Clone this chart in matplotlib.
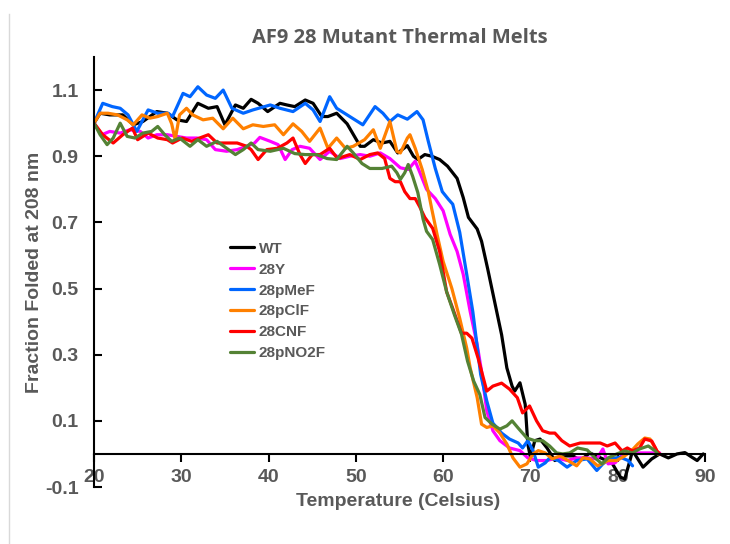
import matplotlib
matplotlib.use("Agg")
import matplotlib.pyplot as plt
from matplotlib.lines import Line2D

# data (temperature in Celsius, fraction folded)
wt_t = [20.0, 20.7, 21.8, 23.3, 24.5, 25.6, 27.2, 28.4, 29.5, 30.6, 31.9, 33.1, 34.1, 35.0, 36.2, 37.1,
        38.0, 38.8, 39.9, 41.3, 42.1, 43.0, 44.2, 45.1, 46.1, 46.8, 47.8, 49.0, 50.5, 51.0, 52.0, 53.0,
        53.9, 54.8, 55.9, 56.6, 57.1, 57.9, 58.7, 59.6, 60.5, 61.6, 62.3, 62.9, 63.9, 64.4, 65.1, 65.9,
        66.7, 67.3, 67.9, 68.2, 68.8, 69.4, 69.7, 70.0, 70.5, 71.1, 71.9, 72.8, 73.7, 74.9, 75.7, 76.8,
        78.3, 79.4, 80.3, 80.8, 81.4, 81.7, 82.3, 82.9, 83.9, 84.8, 85.8, 86.8, 87.7, 88.5, 89.1, 89.8]
wt_f = [1.00, 1.03, 1.025, 1.025, 0.995, 1.005, 1.035, 1.03, 1.01, 1.005, 1.06, 1.045, 1.05, 0.995, 1.055, 1.045,
        1.072, 1.06, 1.035, 1.06, 1.055, 1.05, 1.07, 1.06, 1.02, 1.02, 1.03, 0.998, 0.93, 0.93, 0.95, 0.94,
        0.945, 0.91, 0.932, 0.90, 0.89, 0.905, 0.90, 0.89, 0.87, 0.833, 0.775, 0.715, 0.68, 0.643, 0.56, 0.46,
        0.36, 0.26, 0.205, 0.19, 0.215, 0.15, 0.03, -0.01, 0.04, 0.045, 0.018, -0.02, -0.006, -0.006, -0.02, 0.003,
        -0.015, -0.03, -0.07, -0.076, -0.02, 0.01, -0.015, -0.04, -0.015, 0.0, -0.012, 0.0, 0.004, -0.01, -0.02, 0.0]

y28_t = [20.0, 20.9, 21.8, 23.0, 24.1, 25.3, 26.2, 27.2, 28.4, 29.5, 30.6, 31.8, 32.9, 33.9, 35.2, 36.4,
         37.5, 38.4, 39.0, 40.2, 41.1, 41.9, 42.7, 43.6, 44.7, 45.9, 47.0, 48.2, 49.3, 50.5, 51.6, 52.8,
         53.9, 55.1, 56.0, 56.8, 57.3, 58.1, 59.1, 60.0, 60.8, 61.6, 62.3, 63.1, 63.9, 64.4, 65.0, 65.7,
         66.5, 67.6, 68.8, 69.7, 70.7, 71.9, 73.0, 74.2, 75.3, 76.5, 77.6, 78.3, 78.9, 79.7, 80.6, 81.7,
         82.9, 84.8]
y28_f = [1.00, 0.965, 0.975, 0.97, 0.98, 0.975, 0.955, 0.965, 0.965, 0.96, 0.955, 0.955, 0.95, 0.92, 0.915, 0.92,
         0.93, 0.94, 0.957, 0.945, 0.935, 0.89, 0.92, 0.93, 0.924, 0.89, 0.915, 0.893, 0.90, 0.905, 0.90, 0.91,
         0.893, 0.865, 0.86, 0.885, 0.853, 0.80, 0.772, 0.735, 0.664, 0.612, 0.543, 0.43, 0.33, 0.25, 0.13, 0.07,
         0.04, 0.018, 0.01, -0.012, -0.02, -0.02, -0.012, -0.02, -0.012, -0.012, -0.015, 0.015, -0.03, -0.027, 0.0, 0.003,
         0.003, 0.003]

pmef_t = [20.0, 21.0, 22.1, 23.0, 23.9, 24.9, 26.2, 27.3, 28.5, 29.0, 30.2, 31.0, 31.9, 32.9, 33.9, 34.8,
          35.8, 37.1, 38.2, 40.2, 41.3, 42.8, 44.2, 45.1, 45.9, 47.0, 47.8, 49.0, 50.8, 52.2, 53.1, 53.9,
          54.8, 55.9, 57.0, 57.7, 58.3, 59.1, 59.9, 60.6, 61.1, 61.9, 62.7, 63.4, 64.3, 65.0, 65.7, 66.7,
          67.6, 68.6, 69.1, 69.7, 70.3, 70.9, 71.7, 72.2, 73.2, 74.2, 75.3, 76.5, 77.6, 78.3, 79.1, 80.3,
          81.2, 81.7]
pmef_f = [1.00, 1.06, 1.05, 1.045, 1.025, 0.975, 1.04, 1.03, 1.03, 1.02, 1.09, 1.08, 1.11, 1.085, 1.075, 1.10,
          1.045, 1.03, 1.04, 1.055, 1.045, 1.035, 1.06, 1.04, 1.005, 1.08, 1.045, 1.025, 0.995, 1.05, 1.03, 1.005,
          1.025, 1.012, 1.035, 1.01, 0.945, 0.863, 0.793, 0.77, 0.755, 0.67, 0.543, 0.43, 0.24, 0.16, 0.093, 0.063,
          0.045, 0.033, 0.018, 0.04, 0.01, -0.04, -0.027, -0.012, -0.02, -0.04, -0.02, -0.015, -0.05, -0.03, -0.015, -0.01,
          -0.02, -0.036]

pclf_t = [20.0, 20.7, 21.6, 22.7, 23.8, 24.5, 25.5, 26.4, 27.3, 28.4, 28.9, 29.3, 29.8, 30.6, 31.3, 32.5,
          33.6, 34.8, 35.9, 37.1, 38.2, 39.4, 40.7, 41.7, 42.8, 43.8, 44.7, 45.9, 46.8, 47.8, 48.8, 49.7,
          51.0, 52.0, 52.8, 53.9, 54.7, 55.1, 55.9, 56.2, 56.8, 57.6, 58.3, 58.7, 59.3, 60.0, 61.0, 61.9,
          62.7, 63.1, 63.9, 64.4, 65.0, 65.7, 66.5, 67.3, 68.0, 68.8, 69.6, 70.3, 70.9, 71.7, 72.5, 73.4,
          74.3, 75.3, 76.0, 76.8, 77.7, 78.9, 79.9, 80.8, 81.6, 82.3, 83.1, 83.7, 84.3, 84.6]
pclf_f = [1.00, 1.03, 1.03, 1.025, 1.01, 0.995, 1.025, 1.015, 1.02, 1.03, 0.998, 0.95, 1.025, 1.045, 1.025, 1.01,
          1.015, 0.983, 1.015, 0.983, 0.995, 0.99, 0.995, 0.965, 0.998, 0.975, 0.945, 0.985, 0.924, 0.955, 0.924, 0.93,
          0.95, 0.98, 0.924, 1.005, 0.915, 0.91, 0.955, 0.965, 0.924, 0.86, 0.793, 0.74, 0.664, 0.582, 0.50, 0.41,
          0.32, 0.26, 0.17, 0.09, 0.08, 0.085, 0.063, 0.03, -0.012, -0.04, -0.03, 0.0, 0.01, 0.003, -0.015, -0.006,
          -0.02, -0.036, -0.012, -0.015, -0.036, -0.02, -0.02, -0.006, 0.01, 0.03, 0.048, 0.045, 0.018, 0.0]

cnf_t = [20.0, 21.0, 22.2, 23.3, 24.4, 25.0, 26.2, 27.3, 28.4, 29.0, 30.1, 31.2, 32.1, 33.1, 34.1, 35.2,
         36.4, 37.5, 38.0, 38.8, 39.8, 41.0, 42.1, 42.8, 43.6, 44.2, 45.0, 45.9, 47.0, 47.9, 49.3, 50.5,
         51.6, 52.5, 53.3, 53.9, 54.5, 55.1, 55.6, 56.2, 56.8, 57.3, 57.9, 58.8, 59.6, 60.4, 61.1, 62.1,
         62.7, 63.3, 64.0, 65.0, 65.7, 66.7, 67.6, 68.5, 69.1, 69.9, 70.7, 71.4, 72.2, 72.8, 73.6, 74.5,
         75.7, 76.8, 78.0, 78.8, 79.7, 80.5, 81.1, 81.7, 82.5, 83.1, 83.9, 84.5, 84.8]
cnf_f = [1.00, 0.965, 0.94, 0.965, 0.985, 0.95, 0.97, 0.955, 0.95, 0.94, 0.955, 0.945, 0.955, 0.965, 0.94, 0.94,
         0.94, 0.93, 0.92, 0.89, 0.92, 0.924, 0.94, 0.955, 0.905, 0.878, 0.905, 0.905, 0.924, 0.893, 0.905, 0.89,
         0.905, 0.91, 0.893, 0.833, 0.823, 0.823, 0.793, 0.772, 0.772, 0.748, 0.715, 0.682, 0.612, 0.49, 0.44, 0.365,
         0.365, 0.35, 0.29, 0.19, 0.205, 0.214, 0.196, 0.17, 0.124, 0.145, 0.10, 0.07, 0.063, 0.063, 0.04, 0.024,
         0.033, 0.033, 0.033, 0.024, 0.033, 0.009, 0.018, 0.009, 0.018, 0.045, 0.039, 0.009, 0.0]

pno2f_t = [20.0, 20.7, 21.5, 22.2, 23.0, 23.8, 24.7, 25.6, 26.6, 27.3, 28.1, 28.9, 29.8, 31.0, 31.9, 32.9,
           34.1, 35.2, 36.2, 37.1, 38.0, 38.8, 40.2, 41.7, 43.0, 44.2, 45.5, 46.7, 47.8, 49.0, 49.7, 50.7,
           51.6, 53.0, 54.1, 54.7, 55.1, 55.6, 56.0, 56.5, 57.1, 57.7, 58.1, 58.8, 59.6, 60.4, 61.3, 62.1,
           62.8, 63.5, 64.2, 64.8, 65.6, 66.5, 67.3, 67.9, 68.6, 69.6, 70.5, 71.4, 72.2, 73.0, 73.7, 74.5,
           75.4, 76.5, 77.4, 78.2, 78.9, 79.9, 80.8, 81.7, 82.5, 83.5, 84.3, 84.6]
pno2f_f = [1.00, 0.965, 0.935, 0.955, 1.00, 0.96, 0.955, 0.97, 0.975, 0.99, 0.965, 0.945, 0.955, 0.93, 0.95, 0.93,
           0.945, 0.924, 0.905, 0.92, 0.94, 0.92, 0.915, 0.924, 0.908, 0.905, 0.905, 0.893, 0.89, 0.93, 0.91, 0.878,
           0.863, 0.863, 0.87, 0.85, 0.83, 0.85, 0.875, 0.84, 0.79, 0.71, 0.673, 0.648, 0.573, 0.49, 0.42, 0.362,
           0.28, 0.22, 0.18, 0.11, 0.09, 0.075, 0.085, 0.10, 0.078, 0.048, 0.04, 0.04, 0.024, 0.003, 0.0, 0.003,
           0.018, 0.012, -0.012, -0.03, -0.012, 0.0, 0.009, 0.003, 0.015, 0.024, 0.009, 0.0]

names = ["WT", "28Y", "28pMeF", "28pClF", "28CNF", "28pNO2F"]
colors = ["#000000", "#ff00ff", "#0066ff", "#ff8000", "#ff0000", "#548235"]
series = [(wt_t, wt_f), (y28_t, y28_f), (pmef_t, pmef_f),
          (pclf_t, pclf_f), (cnf_t, cnf_f), (pno2f_t, pno2f_f)]

gray = "#595959"
narrow = ["Liberation Sans Narrow", "Liberation Sans", "DejaVu Sans"]

fig = plt.figure(figsize=(7.3, 5.44), dpi=100)
ax = fig.add_axes([94 / 730, 1 - 487 / 544, 611 / 730, 430 / 544])

for (t, f), name, c in zip(series, names, colors):
    ax.plot(t, f, color=c, lw=2.3, label=name, solid_joinstyle="round", solid_capstyle="round")

ax.set_xlim(20, 90)
ax.set_ylim(-0.1, 1.2)
ax.set_xticks(range(20, 91, 10))
ax.set_yticks([-0.1, 0.1, 0.3, 0.5, 0.7, 0.9, 1.1])
ax.set_yticklabels(["-0.1", "0.1", "0.3", "0.5", "0.7", "0.9", "1.1"])

for s in ["top", "right"]:
    ax.spines[s].set_visible(False)
ax.spines["bottom"].set_position(("data", 0))
ax.spines["left"].set_linewidth(1.5)
ax.spines["bottom"].set_linewidth(1.5)

ax.tick_params(axis="y", direction="in", length=6, width=1.5, pad=11, colors=gray)
ax.tick_params(axis="x", direction="out", length=6, width=1.5, pad=5, colors=gray)
ax.tick_params(axis="both", color="black")
for lab in ax.get_xticklabels() + ax.get_yticklabels():
    lab.set_family(narrow)
    lab.set_fontweight("bold")
    lab.set_fontsize(14)

fig.text(400 / 730, 1 - 38 / 544, "AF9 28 Mutant Thermal Melts", ha="center", va="center",
         family=["Open Sans", "DejaVu Sans"], fontweight="bold", fontsize=14.5, color=gray)
fig.text(398 / 730, 1 - 502 / 544, "Temperature (Celsius)", ha="center", va="center",
         family=narrow, fontweight="bold", fontsize=14, color=gray)
fig.text(35 / 730, 1 - 272 / 544, "Fraction Folded at 208 nm", ha="center", va="center",
         rotation=90, family=narrow, fontweight="bold", fontsize=14, color=gray)

leg = ax.legend(loc="upper left", bbox_to_anchor=(216 / 730, 1 - 228 / 544),
                bbox_transform=fig.transFigure, frameon=False, handlelength=1.6,
                handletextpad=0.3, labelspacing=0.45,
                prop={"family": narrow, "weight": "bold", "size": 11})
for txt in leg.get_texts():
    txt.set_color(gray)

# faint frame edge on the left of the picture
fig.add_artist(Line2D([9 / 730, 9 / 730], [0, 1 - 14 / 544], transform=fig.transFigure,
                      color="#d9d9d9", lw=1))

fig.savefig("out.png", dpi=100)
